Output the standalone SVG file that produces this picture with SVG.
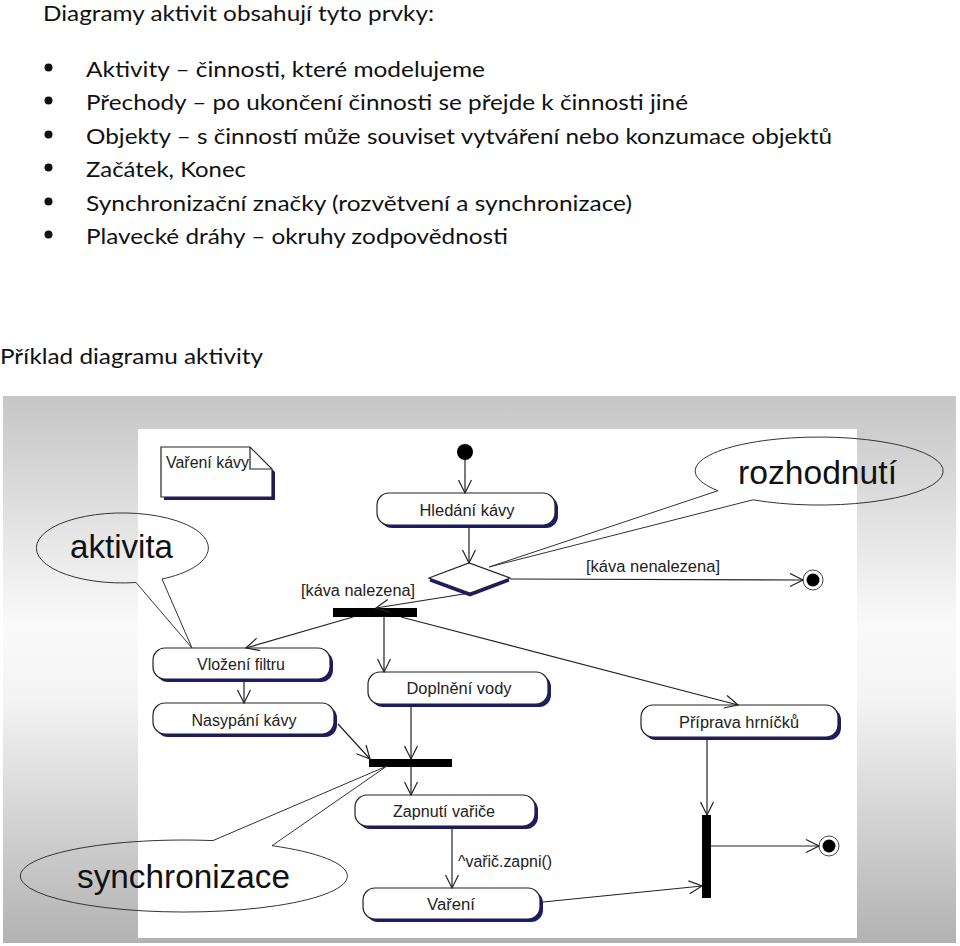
<svg xmlns="http://www.w3.org/2000/svg" width="960" height="946" viewBox="0 0 960 946">
<defs>
<linearGradient id="bg" x1="0" y1="0" x2="0" y2="1">
<stop offset="0" stop-color="#c6c6c6"/>
<stop offset="0.1" stop-color="#d2d2d2"/>
<stop offset="0.42" stop-color="#fafafa"/>
<stop offset="0.55" stop-color="#f4f4f4"/>
<stop offset="1" stop-color="#b2b2b2"/>
</linearGradient>
<marker id="arr" markerWidth="16" markerHeight="16" refX="14" refY="7" orient="auto" markerUnits="userSpaceOnUse">
<path d="M1,0.5 L14,7 L1,13.5" fill="none" stroke="#222" stroke-width="1.2"/>
</marker>
<style>
.head{font-family:"Lato","Liberation Sans",sans-serif;font-size:22px;fill:#111}
.lbl{font-family:"Liberation Sans",Arial,sans-serif;font-size:16px;fill:#222;text-anchor:middle}
.glbl{font-family:"Liberation Sans",Arial,sans-serif;font-size:16px;fill:#222}
.big{font-family:"Liberation Sans",Arial,sans-serif;font-size:33px;fill:#111}
.box{fill:#fff;stroke:#222;stroke-width:1.2}
.shadow{fill:#1a1a72}
.conn{fill:none;stroke:#222;stroke-width:1.2}
.call{fill:none;stroke:#333;stroke-width:1}
.bar{fill:#000}
</style>
</defs>

<g id="heading">
<text class="head" x="43" y="21" font-size="21" textLength="391" lengthAdjust="spacingAndGlyphs">Diagramy aktivit obsahují tyto prvky:</text>
<circle cx="48.5" cy="67.5" r="4" fill="#111"/>
<text class="head" x="86" y="77" textLength="399" lengthAdjust="spacingAndGlyphs">Aktivity – činnosti, které modelujeme</text>
<circle cx="48.5" cy="100.5" r="4" fill="#111"/>
<text class="head" x="86" y="110" textLength="602" lengthAdjust="spacingAndGlyphs">Přechody – po ukončení činnosti se přejde k činnosti jiné</text>
<circle cx="48.5" cy="134.5" r="4" fill="#111"/>
<text class="head" x="86" y="144" textLength="746" lengthAdjust="spacingAndGlyphs">Objekty – s činností může souviset vytváření nebo konzumace objektů</text>
<circle cx="48.5" cy="167.5" r="4" fill="#111"/>
<text class="head" x="86" y="177" textLength="160" lengthAdjust="spacingAndGlyphs">Začátek, Konec</text>
<circle cx="48.5" cy="201.5" r="4" fill="#111"/>
<text class="head" x="86" y="211" textLength="546" lengthAdjust="spacingAndGlyphs">Synchronizační značky (rozvětvení a synchronizace)</text>
<circle cx="48.5" cy="234.5" r="4" fill="#111"/>
<text class="head" x="86" y="244" textLength="422" lengthAdjust="spacingAndGlyphs">Plavecké dráhy – okruhy zodpovědnosti</text>
<text class="head" x="0" y="364" textLength="263" lengthAdjust="spacingAndGlyphs">Příklad diagramu aktivity</text>
</g>

<g id="picture-frame">
<rect x="3" y="396" width="953" height="547" fill="url(#bg)"/>
<rect x="138" y="429" width="719" height="509" fill="#fff"/>
</g>

<g id="note-vareni-kavy">
<path class="shadow" d="M164,450 L253,450 L275,472 L275,500 L164,500 Z"/>
<path class="box" d="M161,447 L250,447 L272,469 L272,497 L161,497 Z"/>
<path class="conn" d="M250,447 L250,469 L272,469"/>
<text class="glbl" x="166" y="468" textLength="83" lengthAdjust="spacingAndGlyphs">Vaření kávy</text>
</g>

<g id="start">
<circle cx="465" cy="452" r="8" fill="#000"/>
</g>

<g id="hledani-kavy">
<rect class="shadow" x="380" y="496" width="178" height="32" rx="12"/>
<rect class="box" x="377" y="493" width="178" height="32" rx="12"/>
<text class="lbl" x="467" y="516" textLength="95" lengthAdjust="spacingAndGlyphs">Hledání kávy</text>
</g>

<g id="decision">
<polyline points="430,580 470,595 509,580" fill="none" stroke="#1a1a72" stroke-width="3"/>
<polygon class="box" points="429,578 469,563 510,578 470,593"/>
</g>

<g id="final-1">
<circle cx="813" cy="580" r="10" fill="#fff" stroke="#444" stroke-width="1"/>
<circle cx="813" cy="580" r="6.5" fill="#000"/>
</g>

<g id="fork">
<rect class="bar" x="333" y="608" width="84" height="9"/>
</g>

<g id="vlozeni-filtru">
<rect class="shadow" x="156" y="651" width="177" height="31" rx="12"/>
<rect class="box" x="153" y="648" width="177" height="31" rx="12"/>
<text class="lbl" x="241" y="670" textLength="88" lengthAdjust="spacingAndGlyphs">Vložení filtru</text>
</g>

<g id="nasypani-kavy">
<rect class="shadow" x="156" y="706" width="181" height="31" rx="12"/>
<rect class="box" x="153" y="703" width="181" height="31" rx="12"/>
<text class="lbl" x="244" y="726" textLength="105" lengthAdjust="spacingAndGlyphs">Nasypání kávy</text>
</g>

<g id="doplneni-vody">
<rect class="shadow" x="371" y="675" width="180" height="32" rx="12"/>
<rect class="box" x="368" y="672" width="180" height="32" rx="12"/>
<text class="lbl" x="459" y="694" textLength="105" lengthAdjust="spacingAndGlyphs">Doplnění vody</text>
</g>

<g id="priprava-hrnicku">
<rect class="shadow" x="644" y="708" width="197" height="32" rx="12"/>
<rect class="box" x="641" y="705" width="197" height="32" rx="12"/>
<text class="lbl" x="739" y="728" textLength="120" lengthAdjust="spacingAndGlyphs">Příprava hrníčků</text>
</g>

<g id="join">
<rect class="bar" x="369" y="759" width="83" height="8"/>
</g>

<g id="zapnuti-varice">
<rect class="shadow" x="358" y="798" width="180" height="31" rx="12"/>
<rect class="box" x="355" y="795" width="180" height="31" rx="12"/>
<text class="lbl" x="444" y="817" textLength="102" lengthAdjust="spacingAndGlyphs">Zapnutí vařiče</text>
</g>

<g id="vareni">
<rect class="shadow" x="366" y="891" width="177" height="31" rx="12"/>
<rect class="box" x="363" y="888" width="177" height="31" rx="12"/>
<text class="lbl" x="451" y="910" textLength="48" lengthAdjust="spacingAndGlyphs">Vaření</text>
</g>

<g id="join-vertical">
<rect class="bar" x="702" y="815" width="9" height="83"/>
</g>

<g id="final-2">
<circle cx="829" cy="846" r="10" fill="#fff" stroke="#444" stroke-width="1"/>
<circle cx="829" cy="846" r="6.5" fill="#000"/>
</g>

<g id="connectors">
<line class="conn" x1="465" y1="460" x2="465" y2="493" marker-end="url(#arr)"/>
<line class="conn" x1="469" y1="528" x2="469" y2="563" marker-end="url(#arr)"/>
<line class="conn" x1="470" y1="593" x2="376" y2="608" marker-end="url(#arr)"/>
<line class="conn" x1="510" y1="579" x2="803" y2="580" marker-end="url(#arr)"/>
<line class="conn" x1="353" y1="617" x2="246" y2="648" marker-end="url(#arr)"/>
<line class="conn" x1="384" y1="617" x2="384" y2="672" marker-end="url(#arr)"/>
<line class="conn" x1="401" y1="617" x2="738" y2="705" marker-end="url(#arr)"/>
<line class="conn" x1="244" y1="682" x2="244" y2="703" marker-end="url(#arr)"/>
<line class="conn" x1="338" y1="724" x2="370" y2="759" marker-end="url(#arr)"/>
<line class="conn" x1="411" y1="707" x2="411" y2="759" marker-end="url(#arr)"/>
<line class="conn" x1="411" y1="767" x2="411" y2="795" marker-end="url(#arr)"/>
<line class="conn" x1="452" y1="829" x2="452" y2="888" marker-end="url(#arr)"/>
<line class="conn" x1="543" y1="902" x2="702" y2="886" marker-end="url(#arr)"/>
<line class="conn" x1="707" y1="740" x2="707" y2="815" marker-end="url(#arr)"/>
<line class="conn" x1="711" y1="846" x2="819" y2="846" marker-end="url(#arr)"/>
<text class="glbl" x="301" y="596" textLength="114" lengthAdjust="spacingAndGlyphs">[káva nalezena]</text>
<text class="glbl" x="586" y="572" textLength="134" lengthAdjust="spacingAndGlyphs">[káva nenalezena]</text>
<text class="glbl" x="458" y="867" textLength="94" lengthAdjust="spacingAndGlyphs">^vařič.zapni()</text>
</g>

<g id="callout-rozhodnuti">
<path class="call" d="M753,499.8 L489,567 L718,490.7 A124,34 0 1 1 753,499.8"/>
<text class="big" x="738" y="484" font-size="34" textLength="159" lengthAdjust="spacingAndGlyphs">rozhodnutí</text>
</g>

<g id="callout-aktivita">
<path class="call" d="M162,579 L192,648 L136,582.5 A86,35 0 1 1 162,579"/>
<text class="big" x="70" y="558" textLength="103" lengthAdjust="spacingAndGlyphs">aktivita</text>
</g>

<g id="callout-synchronizace">
<path class="call" d="M272,845.7 L387,766 L213,840.6 A163.5,36 0 1 0 272,845.7"/>
<text class="big" x="77" y="888" textLength="213" lengthAdjust="spacingAndGlyphs">synchronizace</text>
</g>
</svg>
